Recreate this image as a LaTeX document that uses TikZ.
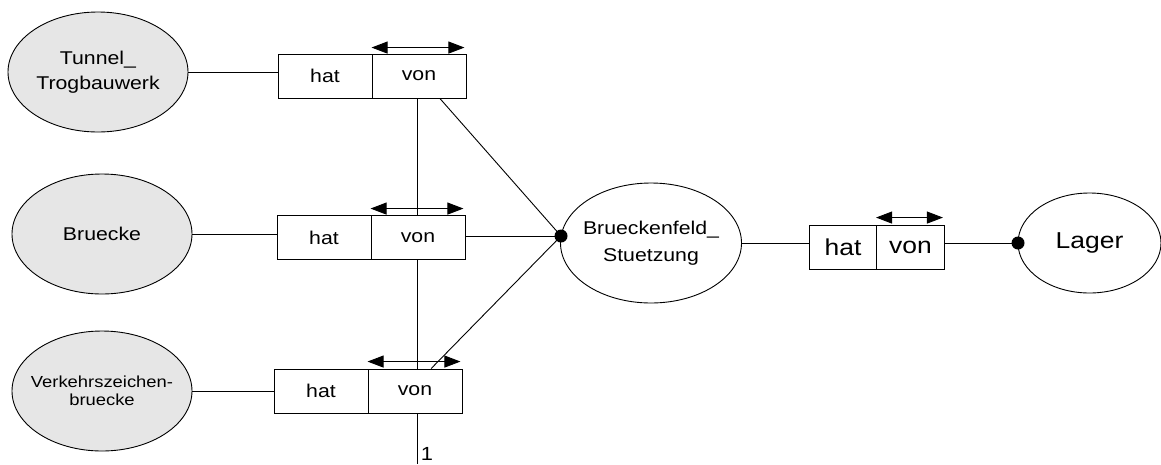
\documentclass[tikz,border=0pt]{standalone}
\usepackage{fontspec}
\setmainfont[FakeStretch=1.15]{Liberation Sans}
\usetikzlibrary{shapes.geometric,arrows.meta,calc}
\definecolor{entgray}{HTML}{E6E6E6}
\begin{document}
\begin{tikzpicture}[x=1pt,y=-1pt,line width=0.9pt,
  ent/.style={ellipse,draw,fill=entgray,inner sep=0pt,
    minimum width=180pt,minimum height=120pt},
  mainent/.style={ellipse,draw,fill=white,inner sep=0pt},
  txt/.style={align=center,font=\fontsize{18.5}{25}\selectfont},
  relbox/.style={rectangle,draw,fill=white,inner sep=0pt,
    minimum width=94pt,minimum height=44pt,font=\fontsize{18.5}{22}\selectfont},
  bigbox/.style={rectangle,draw,fill=white,inner sep=0pt,
    minimum width=68pt,minimum height=44pt,font=\fontsize{23}{26}\selectfont},
  dirarrow/.style={{Triangle[length=16pt,width=12pt]}-{Triangle[length=16pt,width=12pt]}},
  joint/.style={circle,fill=black,inner sep=0pt,minimum size=13pt}]
\useasboundingbox (0,0) rectangle (1161,464);

% entities
\node[ent,label={[txt]center:Tunnel\_\\Trogbauwerk}] (tunnel) at (98,72) {};
\node[ent,label={[txt]center:Bruecke}] (bruecke) at (102,234) {};
\node[ent,label={[txt,font=\fontsize{16}{18.5}\selectfont]center:Verkehrszeichen-\\bruecke}] (verkehr) at (102,391) {};
\node[mainent,minimum width=181pt,minimum height=120pt,
  label={[txt,font=\fontsize{18.5}{27}\selectfont]center:Brueckenfeld\_\\Stuetzung}] (bfs) at (651,243) {};
\node[mainent,minimum width=143pt,minimum height=100pt,
  label={[txt,font=\fontsize{23}{26}\selectfont]center:Lager}] (lager) at (1089.5,243) {};

% joints
\node[joint] (dot1) at (561,236) {};
\node[joint] (dot2) at (1018,243) {};
\coordinate (bot) at (417,464);

% vertical line (behind boxes)
\draw (417,98) -- (bot);

% relationship boxes
\node[relbox] (hat1) at (325,76) {hat};
\node[relbox] (von1) at (419,76) {von};
\node[relbox] (hat2) at (324,237.5) {hat};
\node[relbox] (von2) at (418,237.5) {von};
\node[relbox] (hat3) at (321,391) {hat};
\node[relbox] (von3) at (415,391) {von};
\node[bigbox] (hat4) at (843,247) {hat};
\node[bigbox] (von4) at (910.5,247) {von};

% direction arrows
\draw[dirarrow] ($(von1.north west)+(0,-6)$) -- ($(von1.north east)+(-2,-6)$);
\draw[dirarrow] ($(von2.north west)+(0,-6.5)$) -- ($(von2.north east)+(-2,-6.5)$);
\draw[dirarrow] ($(von3.north west)+(0,-7)$) -- ($(von3.north east)+(-2,-7)$);
\draw[dirarrow] ($(von4.north west)+(0,-7)$) -- ($(von4.north east)+(-2,-7)$);

% connectors
\draw (tunnel.east) -- (tunnel.east -| hat1.west);
\draw (bruecke.east) -- (bruecke.east -| hat2.west);
\draw (verkehr.east) -- (verkehr.east -| hat3.west);
\draw ($(von1.south west)!0.72!(von1.south east)$) -- (dot1.center);
\draw (von2.east |- dot1) -- (dot1.center);
\draw ($(von3.north west)!0.67!(von3.north east)$) -- (dot1.center);
\draw (bfs.east) -- (bfs.east -| hat4.west);
\draw (dot2 -| von4.east) -- (dot2.center);

\node[font=\fontsize{19}{20}\selectfont,inner sep=0pt] (one) at (427,454) {1};
\end{tikzpicture}
\end{document}
